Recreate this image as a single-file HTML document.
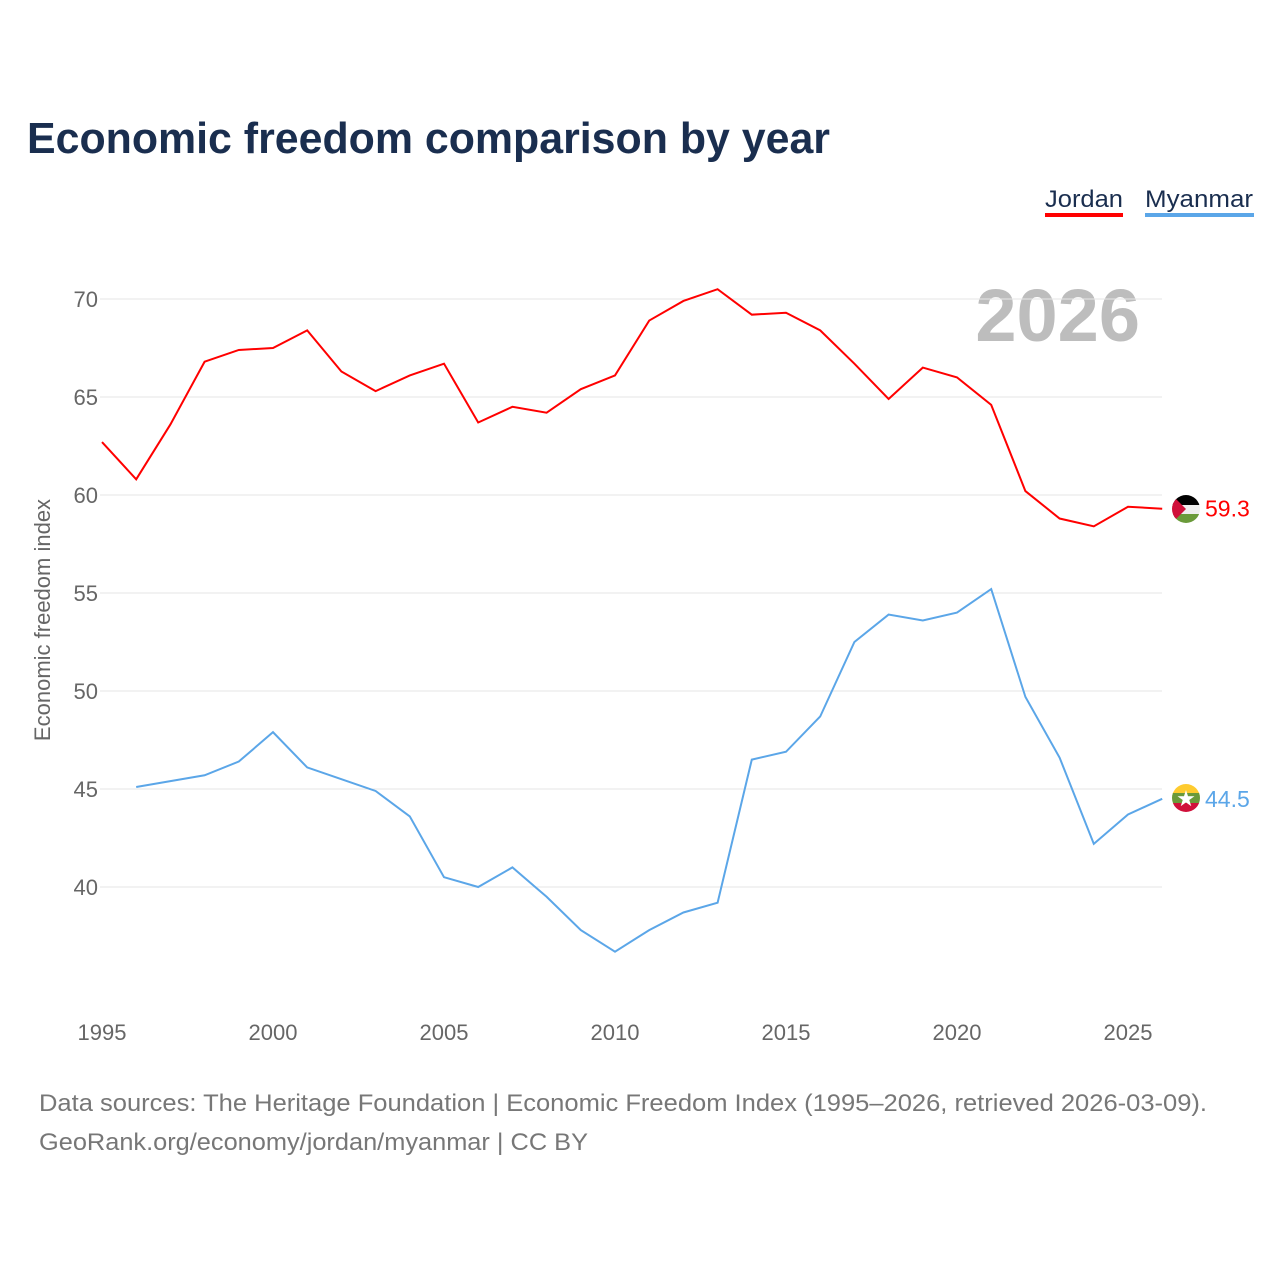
<!DOCTYPE html>
<html><head><meta charset="utf-8"><style>
body{margin:0;background:#fff;font-family:"Liberation Sans",sans-serif}
svg text{font-family:"Liberation Sans",sans-serif}
</style></head><body>
<svg width="1280" height="1280">
<text x="27" y="153" font-size="44" font-weight="bold" fill="#1a2e4f" textLength="803" lengthAdjust="spacingAndGlyphs">Economic freedom comparison by year</text>
<g><text x="1045" y="207" font-size="24" fill="#1a2e4f" textLength="78" lengthAdjust="spacingAndGlyphs">Jordan</text><rect x="1045" y="213" width="78" height="4" fill="#ff0000"/></g>
<g><text x="1145" y="207" font-size="24" fill="#1a2e4f" textLength="108" lengthAdjust="spacingAndGlyphs">Myanmar</text><rect x="1145" y="213" width="109" height="4" fill="#5ba6e8"/></g>
<text x="1140" y="341" font-size="74" font-weight="bold" fill="#bdbdbd" text-anchor="end">2026</text>
<g id="grid"></g><g id="xt"></g>
<text transform="translate(50,620) rotate(-90)" font-size="22" fill="#666" text-anchor="middle">Economic freedom index</text>
<g id="lines"></g>
<text x="39" y="1111" font-size="24" fill="#777" textLength="1168" lengthAdjust="spacingAndGlyphs">Data sources: The Heritage Foundation | Economic Freedom Index (1995–2026, retrieved 2026-03-09).</text>
<text x="39" y="1150" font-size="24" fill="#777" textLength="549" lengthAdjust="spacingAndGlyphs">GeoRank.org/economy/jordan/myanmar | CC BY</text>
<g>
<clipPath id="c1"><circle cx="1186" cy="509" r="14"/></clipPath>
<g clip-path="url(#c1)"><rect x="1172" y="495" width="28" height="10" fill="#000"/><rect x="1172" y="505" width="28" height="9" fill="#eee"/><rect x="1172" y="514" width="28" height="10" fill="#6a9a3a"/><polygon points="1172,495 1186,509 1172,523" fill="#d0103a"/></g></g>
<g>
<clipPath id="c2"><circle cx="1186" cy="798" r="14"/></clipPath>
<g clip-path="url(#c2)"><rect x="1172" y="784" width="28" height="10" fill="#fecb2f"/><rect x="1172" y="793" width="28" height="10" fill="#6a9a3a"/><rect x="1172" y="803" width="28" height="10" fill="#d0103a"/></g>
<text x="1186" y="806" font-size="22" fill="#fff" text-anchor="middle">★</text></g>
</svg>
<script>
const years=[1995,1996,1997,1998,1999,2000,2001,2002,2003,2004,2005,2006,2007,2008,2009,2010,2011,2012,2013,2014,2015,2016,2017,2018,2019,2020,2021,2022,2023,2024,2025,2026];
const jordan=[62.7,60.8,63.6,66.8,67.4,67.5,68.4,66.3,65.3,66.1,66.7,63.7,64.5,64.2,65.4,66.1,68.9,69.9,70.5,69.2,69.3,68.4,66.7,64.9,66.5,66.0,64.6,60.2,58.8,58.4,59.4,59.3];
const myanmar=[null,45.1,45.4,45.7,46.4,47.9,46.1,45.5,44.9,43.6,40.5,40.0,41.0,39.5,37.8,36.7,37.8,38.7,39.2,46.5,46.9,48.7,52.5,53.9,53.6,54.0,55.2,49.7,46.6,42.2,43.7,44.5];
const yTicks=[40,45,50,55,60,65,70];
const xTicks=[1995,2000,2005,2010,2015,2020,2025];
const X=y=>102+(y-1995)*34.2, Y=v=>887-(v-40)*19.6;
const NS="http://www.w3.org/2000/svg";
function mk(t,a,p){const e=document.createElementNS(NS,t);for(const k in a)e.setAttribute(k,a[k]);document.getElementById(p).appendChild(e);return e;}
yTicks.forEach(v=>{const l=mk('line',{x1:100,x2:1162,y1:Y(v),y2:Y(v),stroke:'#e6e6e6','stroke-width':1},'grid');


const t=mk('text',{x:98,y:Y(v)+8,'font-size':22,fill:'#666','text-anchor':'end'},'grid');t.textContent=v;

});
xTicks.forEach(v=>{const t=mk('text',{x:X(v),y:1040,'font-size':22,fill:'#666','text-anchor':'middle'},'xt');t.textContent=v;

});
function line(vals,col,name){let d='';vals.forEach((v,i)=>{if(v==null)return;d+=(d?'L':'M')+X(years[i])+','+Y(v);});
const p=mk('path',{d:d,fill:'none',stroke:col,'stroke-width':2},'lines');


const last=vals[vals.length-1];const t=mk('text',{x:1205,y:Y(last)+8,'font-size':23,fill:col},'lines');t.textContent=last.toFixed(1);

}
line(jordan,'#ff0000','jordan');line(myanmar,'#5ba6e8','myanmar');
</script>
</body></html>
